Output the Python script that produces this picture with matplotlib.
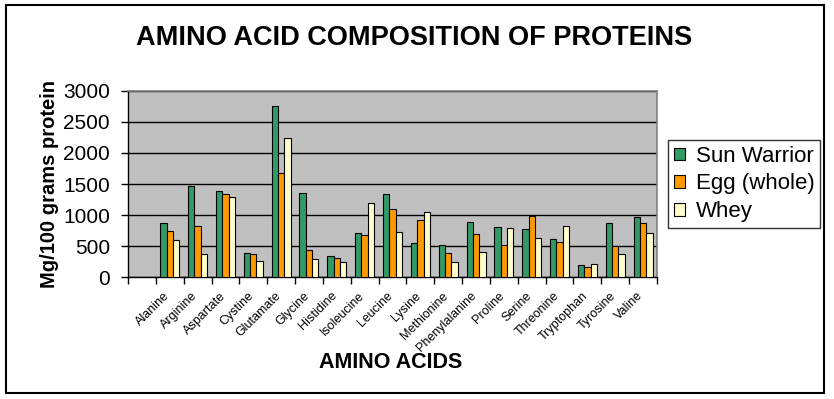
import numpy as np
import matplotlib
matplotlib.use('Agg')
import matplotlib.pyplot as plt
import matplotlib.patches as patches
import matplotlib.transforms as mtransforms

plt.rcParams['font.family'] = ['Liberation Sans', 'DejaVu Sans']

# --- data ---
amino_acids = ['Alanine', 'Arginine', 'Aspartate', 'Cystine', 'Glutamate', 'Glycine',
               'Histidine', 'Isoleucine', 'Leucine', 'Lysine', 'Methionine',
               'Phenylalanine', 'Proline', 'Serine', 'Threonine', 'Tryptophan',
               'Tyrosine', 'Valine']
sun_warrior = [877, 1460, 1380, 385, 2749, 1348, 337, 706, 1332, 545, 513,
               882, 802, 770, 610, 193, 866, 963]
egg_whole = [738, 818, 1332, 374, 1669, 433, 305, 674, 1091, 914, 385,
             690, 513, 979, 562, 160, 497, 866]
whey = [594, 374, 1283, 257, 2246, 289, 241, 1187, 722, 1043, 241,
        412, 786, 626, 818, 209, 374, 706]

series = [('Sun Warrior', sun_warrior, '#339966'),
          ('Egg (whole)', egg_whole, '#FF9900'),
          ('Whey', whey, '#FFFFCC')]

# --- figure ---
fig = plt.figure(figsize=(8.34, 3.99), dpi=100)
W, H = 834, 399
ax = fig.add_axes([128 / W, 1 - 277.3 / H, (657 - 128) / W, (277.3 - 90.7) / H])
ax.set_facecolor('#C0C0C0')

# first category slot is empty in the original, so bars start at slot 1
x = np.arange(len(amino_acids)) + 1
bw = 0.227
for i, (name, vals, col) in enumerate(series):
    ax.bar(x + (i - 1) * bw, vals, width=bw, color=col, edgecolor='black',
           linewidth=0.8, label=name, zorder=3)

ax.set_xlim(-0.5, len(amino_acids) + 0.5)
ax.set_ylim(0, 3000)
ax.set_yticks(np.arange(0, 3001, 500))
ax.yaxis.grid(True, color='black', linewidth=1, zorder=1)
ax.set_axisbelow(True)

# category boundary ticks, labels at centres
ax.set_xticks(np.arange(-0.5, len(amino_acids) + 1, 1))
ax.set_xticklabels([])
ax.set_xticks(x, minor=True)
ax.set_xticklabels(amino_acids, minor=True, rotation=45, ha='right', va='top',
                   rotation_mode='anchor', fontsize=9)
ax.tick_params(axis='x', which='minor', length=0, pad=9)
ax.tick_params(axis='x', which='major', length=5, width=1, direction='out')
ax.tick_params(axis='y', length=5, width=1, direction='out', labelsize=15, pad=8)
offset = mtransforms.ScaledTranslation(-6 / 100, 0, fig.dpi_scale_trans)
for lab in ax.get_xticklabels(minor=True):
    lab.set_transform(lab.get_transform() + offset)

for s in ['left', 'bottom']:
    ax.spines[s].set_color('black')
    ax.spines[s].set_linewidth(1)
for s in ['top', 'right']:
    ax.spines[s].set_color('#808080')
    ax.spines[s].set_linewidth(1.2)

# texts
fig.text(414 / W, 1 - 38 / H, 'AMINO ACID COMPOSITION OF PROTEINS', ha='center',
         va='center', fontsize=19.5, fontweight='bold')
fig.text(391 / W, 1 - 363 / H, 'AMINO ACIDS', ha='center', va='center',
         fontsize=15.5, fontweight='bold')
fig.text(50 / W, 1 - 184 / H, 'Mg/100 grams protein', ha='center', va='center',
         rotation=90, fontsize=14.5, fontweight='bold')

# legend
handles = [patches.Patch(facecolor=c, edgecolor='black', linewidth=0.8, label=n)
           for n, _, c in series]
leg = fig.legend(handles=handles, loc='center left',
                 bbox_to_anchor=(668 / W, 1 - 184 / H), fontsize=16,
                 frameon=True, fancybox=False, edgecolor='black',
                 handlelength=0.5, handleheight=0.5, handletextpad=0.5,
                 labelspacing=0.3, borderpad=0.25, borderaxespad=0)
leg.get_frame().set_linewidth(1)

# outer chart border
fig.add_artist(patches.Rectangle((6 / W, 1 - 393 / H), (824 - 6) / W, (393 - 5) / H,
                                 transform=fig.transFigure, fill=False,
                                 edgecolor='black', linewidth=1.5))

fig.savefig('out.png', dpi=100)
